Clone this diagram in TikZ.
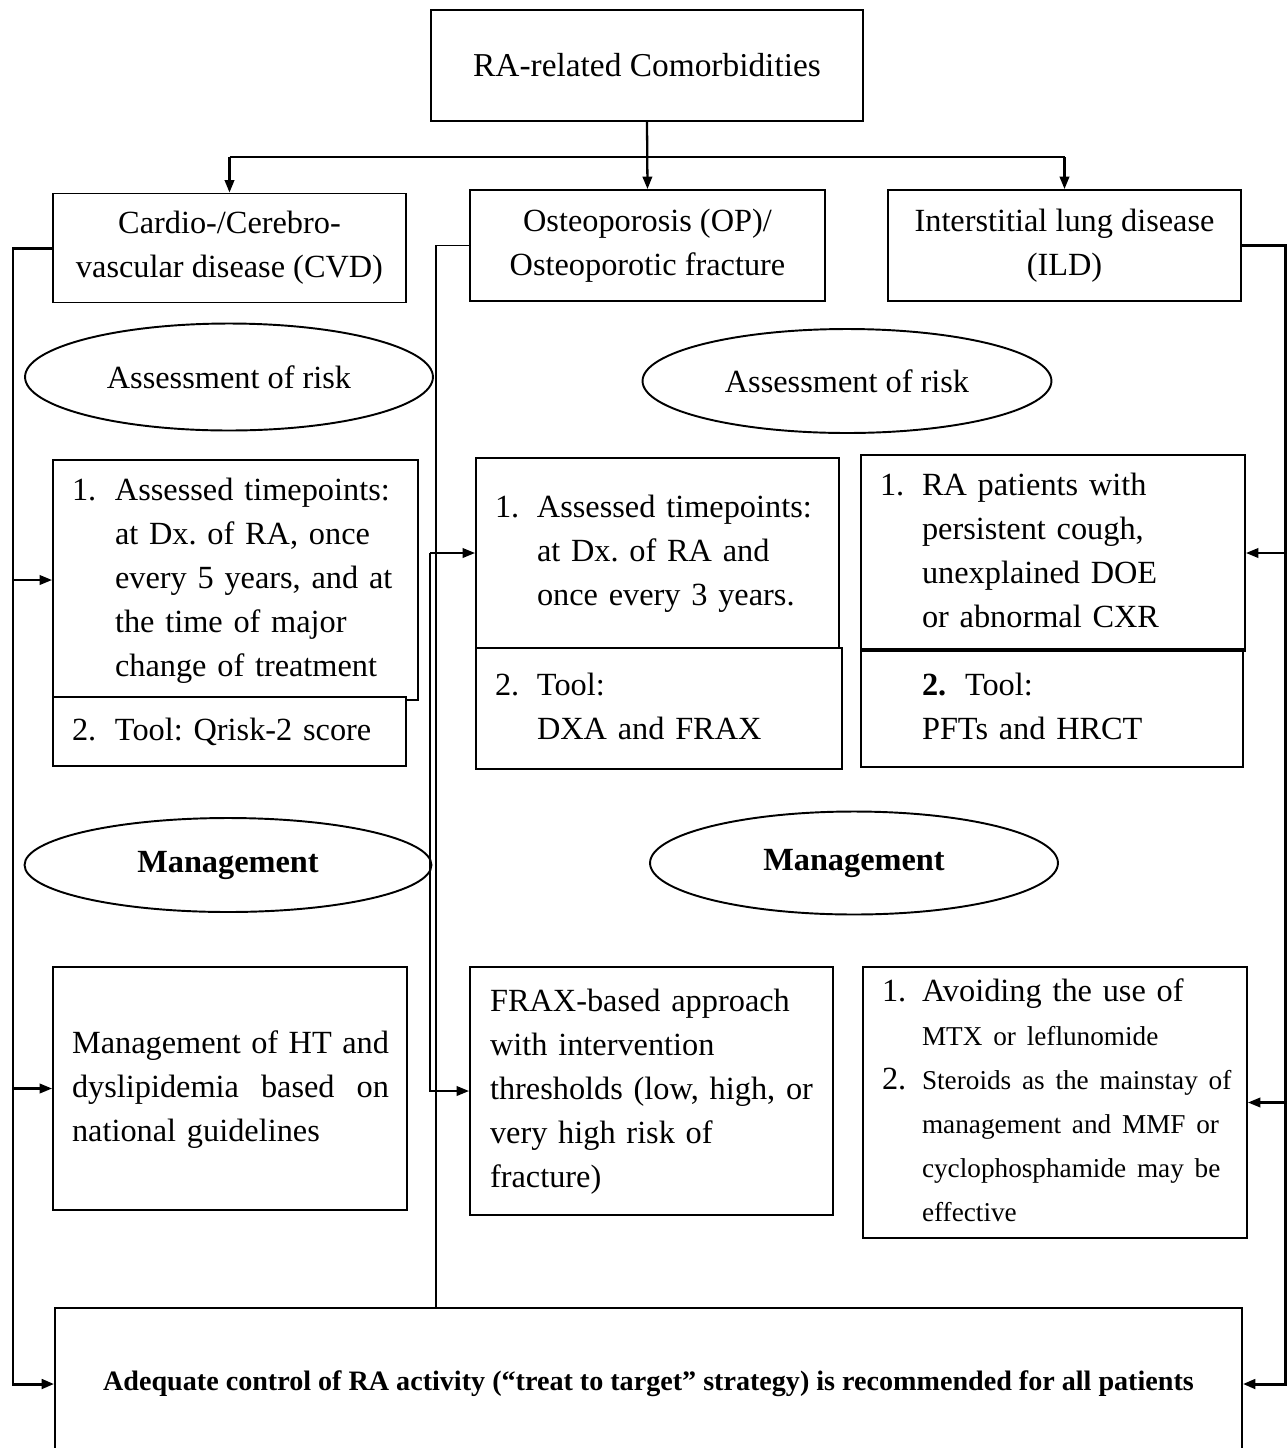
\documentclass[tikz,border=0pt]{standalone}
\usepackage{fontspec}
\setmainfont{Liberation Serif}
\usetikzlibrary{arrows.meta,shapes.geometric}
\setlength{\parindent}{0pt}
\frenchspacing
\tikzset{
  box/.style={draw, line width=1.1pt, rectangle, inner sep=0pt, font=\fontsize{18.4}{25}\selectfont\frenchspacing},
  oval/.style={draw, line width=1.1pt, ellipse, inner sep=0pt, font=\fontsize{18.4}{25}\selectfont},
  arr/.style={line width=1.3pt, -{Triangle[length=0.25cm,width=0.19cm]}},
  longarr/.style={line width=1.7pt, -{Triangle[length=0.25cm,width=0.19cm]}},
  plainline/.style={line width=1.3pt},
  thinline/.style={line width=0.8pt}
}
\newcommand{\numlist}[2]{\begin{tabular}{@{}p{#1}@{}l@{}}#2\end{tabular}}
\newcommand{\plainlist}[1]{\begin{tabular}{@{}l@{}}#1\end{tabular}}
\newcommand{\smalltxt}{\fontsize{15.5}{25}\selectfont}
\begin{document}
\begin{tikzpicture}[x=0.02cm,y=-0.02cm]
\useasboundingbox (0,0) rectangle (1288,1448);

% headings
\node[box, minimum width=8.64cm, minimum height=2.22cm, font=\fontsize{19}{25}\selectfont] (top) at (647,65.5) {RA-related Comorbidities};
\node[box, align=center, minimum width=7.06cm, minimum height=2.18cm] (cvd) at (229.5,248) {Cardio-/Cerebro-\\vascular disease (CVD)};
\node[box, align=center, minimum width=7.10cm, minimum height=2.22cm] (op) at (647.5,245.5) {Osteoporosis (OP)/\\Osteoporotic fracture};
\node[box, align=center, minimum width=7.06cm, minimum height=2.22cm] (ild) at (1064.5,245.5) {Interstitial lung disease\\(ILD)};

% ellipses
\node[oval, minimum width=8.16cm, minimum height=2.14cm] (cvdar) at (229,377) {Assessment of risk};
\node[oval, minimum width=8.18cm, minimum height=2.08cm] (rar) at (847,381) {Assessment of risk};
\node[oval, minimum width=8.14cm, minimum height=1.88cm] (cvdme) at (228,865) {\textbf{Management}};
\node[oval, minimum width=8.16cm, minimum height=2.06cm] (rme) at (854,863) {\textbf{Management}};

% assessment boxes
\node[box, align=left, minimum width=7.30cm, minimum height=4.80cm, text width=6.54cm] (cvda) at (235.5,580)
  {\numlist{0.86cm}{1. & Assessed timepoints:\\ & at Dx. of RA, once\\ & every 5 years, and at\\ & the time of major\\ & change of treatment}};
\node[box, fill=white, align=left, minimum width=7.06cm, minimum height=1.38cm, text width=6.30cm] (cvdt) at (229.5,731.5)
  {\numlist{0.86cm}{2. & Tool: Qrisk-2 score}};

\node[box, align=left, minimum width=7.26cm, minimum height=3.80cm, text width=6.50cm] (opa) at (657.5,553)
  {\numlist{0.84cm}{1. & Assessed timepoints:\\ & at Dx. of RA and\\ & once every 3 years.}};
\node[box, fill=white, align=left, minimum width=7.32cm, minimum height=2.42cm, text width=6.56cm] (opt) at (659,708.5)
  {\numlist{0.84cm}{2. & Tool:\\ & DXA and FRAX}};

\node[box, align=left, minimum width=7.68cm, minimum height=3.92cm, text width=6.92cm] (ilda) at (1053,553)
  {\numlist{0.84cm}{1. & RA patients with\\ & persistent cough,\\ & unexplained DOE\\ & or abnormal CXR}};
\node[box, fill=white, align=left, minimum width=7.64cm, minimum height=2.32cm, text width=5.20cm] (ildt) at (1052,709)
  {\plainlist{\makebox[0.86cm][l]{\textbf{2.}}Tool:\\PFTs and HRCT}};
\draw[line width=1.9pt] (ildt.north west) -- (ildt.north east);

% management boxes
\node[box, align=left, minimum width=7.08cm, minimum height=4.86cm, text width=6.32cm] (cvdm) at (230,1088.5)
  {\plainlist{\makebox[6.34cm][s]{Management\hfill of\hfill HT\hfill and}\\\makebox[6.34cm][s]{dyslipidemia\hfill based\hfill on}\\national guidelines}};
\node[box, align=left, minimum width=7.26cm, minimum height=4.96cm, text width=6.46cm] (opm) at (651.5,1091)
  {\plainlist{FRAX-based approach\\with intervention\\thresholds (low, high, or\\very high risk of\\fracture)}};
\node[box, align=left, minimum width=7.68cm, minimum height=5.42cm, text width=6.92cm] (ildm) at (1055,1102.5)
  {\numlist{0.80cm}{1. & Avoiding the use of\\ & {\smalltxt MTX or leflunomide}\\ 2. & {\smalltxt Steroids as the mainstay of}\\ & {\smalltxt management and MMF or}\\ & {\smalltxt cyclophosphamide may be}\\ & {\smalltxt effective}}};

% bottom box
\node[box, align=center, minimum width=23.74cm, minimum height=3.04cm, font=\fontsize{16}{20}\selectfont\bfseries] (bot) at (648.5,1384)
  {Adequate control of RA activity (“treat to target” strategy) is recommended for all patients};

% top connectors
\coordinate (hy) at (0,157);
\draw[arr] (top.south) -- (op.north);
\draw[plainline] (cvd.north |- hy) -- (ild.north |- hy);
\draw[arr] (cvd.north |- hy) -- (cvd.north);
\draw[arr] (ild.north |- hy) -- (ild.north);

% left connector (CVD)
\coordinate (lx) at (13,0);
\draw[longarr] (cvd.west) -- (cvd.west -| lx) -- (bot.west -| lx) -- (bot.west);
\draw[arr] (cvda.west -| lx) -- (cvda.west);
\draw[arr] (cvdm.west -| lx) -- (cvdm.west);

% middle connector (OP)
\coordinate (ox) at (436,0);
\draw[thinline] (op.west) -- (op.west -| ox) -- (bot.north -| ox);
\coordinate (oj) at (430,553);
\draw[arr] (oj) -- (opa.west);
\draw[arr] (oj) |- (opm.west);

% right connector (ILD)
\coordinate (rx) at (1285,0);
\draw[longarr] (ild.east) -- (ild.east -| rx) -- (bot.east -| rx) -- (bot.east);
\draw[arr] (ilda.east -| rx) -- (ilda.east);
\draw[arr] (ildm.east -| rx) -- (ildm.east);
\end{tikzpicture}
\end{document}
